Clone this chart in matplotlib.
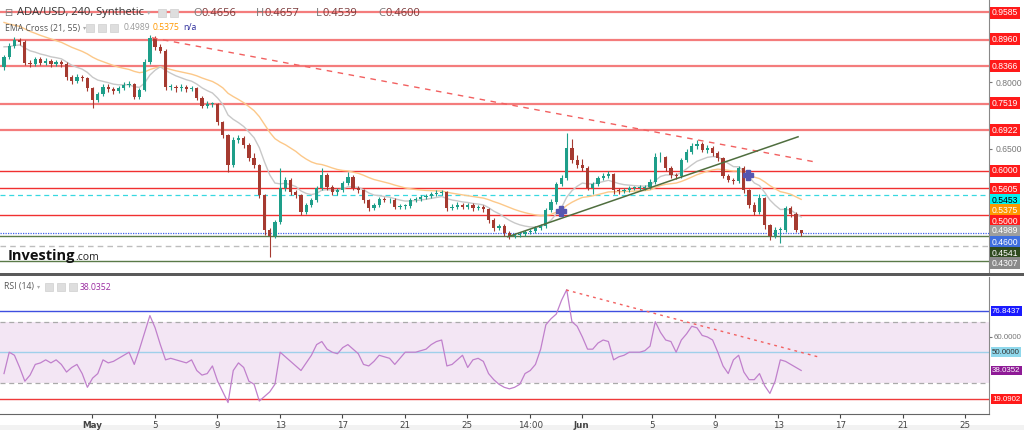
import matplotlib
matplotlib.use("Agg")
import matplotlib.pyplot as plt
from matplotlib.patches import Rectangle
import numpy as np

plt.rcParams['font.family'] = ['Open Sans', 'DejaVu Sans']

first_open = 0.835
closes = [
    0.857, 0.882, 0.895, 0.891, 0.844, 0.841, 0.853, 0.844, 0.848, 0.841,
    0.846, 0.841, 0.812, 0.803, 0.812, 0.810, 0.787, 0.760, 0.774, 0.789,
    0.785, 0.780, 0.787, 0.794, 0.796, 0.767, 0.783, 0.846, 0.900, 0.880,
    0.871, 0.789, 0.789, 0.787, 0.789, 0.785, 0.787, 0.765, 0.747, 0.751,
    0.751, 0.710, 0.681, 0.613, 0.670, 0.674, 0.659, 0.629, 0.613, 0.546,
    0.467, 0.453, 0.485, 0.562, 0.580, 0.552, 0.546, 0.507, 0.523, 0.534,
    0.562, 0.591, 0.564, 0.552, 0.557, 0.573, 0.586, 0.562, 0.557, 0.534,
    0.516, 0.523, 0.537, 0.534, 0.534, 0.519, 0.521, 0.521, 0.534, 0.537,
    0.541, 0.543, 0.548, 0.550, 0.552, 0.516, 0.519, 0.523, 0.519, 0.523,
    0.516, 0.519, 0.514, 0.489, 0.471, 0.476, 0.460, 0.453, 0.455, 0.458,
    0.462, 0.465, 0.471, 0.476, 0.512, 0.530, 0.571, 0.584, 0.652, 0.625,
    0.613, 0.607, 0.562, 0.571, 0.584, 0.589, 0.593, 0.557, 0.555, 0.557,
    0.562, 0.562, 0.562, 0.564, 0.575, 0.631, 0.631, 0.607, 0.591, 0.589,
    0.625, 0.643, 0.656, 0.661, 0.647, 0.652, 0.640, 0.629, 0.589, 0.580,
    0.577, 0.607, 0.557, 0.523, 0.507, 0.539, 0.478, 0.453, 0.467, 0.467,
    0.516, 0.503, 0.466, 0.460]
highs = [
    0.862, 0.888, 0.902, 0.900, 0.896, 0.850, 0.858, 0.858, 0.854, 0.853,
    0.851, 0.851, 0.845, 0.816, 0.818, 0.817, 0.813, 0.790, 0.779, 0.795,
    0.795, 0.790, 0.792, 0.800, 0.802, 0.799, 0.788, 0.852, 0.906, 0.904,
    0.886, 0.874, 0.796, 0.794, 0.795, 0.793, 0.792, 0.790, 0.768, 0.757,
    0.756, 0.754, 0.713, 0.684, 0.676, 0.680, 0.678, 0.662, 0.640, 0.616,
    0.549, 0.472, 0.490, 0.607, 0.586, 0.584, 0.557, 0.549, 0.528, 0.539,
    0.567, 0.607, 0.595, 0.568, 0.562, 0.578, 0.598, 0.590, 0.566, 0.560,
    0.537, 0.528, 0.542, 0.541, 0.540, 0.538, 0.526, 0.526, 0.539, 0.542,
    0.546, 0.548, 0.553, 0.556, 0.558, 0.555, 0.525, 0.529, 0.528, 0.528,
    0.527, 0.524, 0.523, 0.517, 0.494, 0.481, 0.480, 0.464, 0.460, 0.462,
    0.467, 0.470, 0.475, 0.481, 0.516, 0.536, 0.576, 0.590, 0.685, 0.672,
    0.636, 0.626, 0.610, 0.576, 0.589, 0.595, 0.599, 0.596, 0.562, 0.562,
    0.567, 0.567, 0.568, 0.569, 0.581, 0.641, 0.642, 0.634, 0.611, 0.596,
    0.630, 0.649, 0.662, 0.670, 0.666, 0.658, 0.656, 0.644, 0.632, 0.594,
    0.585, 0.612, 0.611, 0.560, 0.530, 0.547, 0.542, 0.481, 0.474, 0.474,
    0.521, 0.520, 0.507, 0.466]
lows = [
    0.828, 0.852, 0.877, 0.884, 0.838, 0.834, 0.836, 0.838, 0.839, 0.835,
    0.836, 0.835, 0.806, 0.797, 0.799, 0.804, 0.781, 0.742, 0.755, 0.770,
    0.779, 0.774, 0.776, 0.783, 0.789, 0.762, 0.762, 0.780, 0.842, 0.872,
    0.865, 0.783, 0.782, 0.779, 0.781, 0.778, 0.780, 0.759, 0.741, 0.742,
    0.744, 0.704, 0.674, 0.598, 0.608, 0.664, 0.652, 0.622, 0.606, 0.540,
    0.455, 0.406, 0.448, 0.480, 0.555, 0.546, 0.540, 0.501, 0.503, 0.518,
    0.530, 0.557, 0.558, 0.546, 0.546, 0.552, 0.568, 0.556, 0.551, 0.528,
    0.510, 0.511, 0.519, 0.529, 0.528, 0.514, 0.514, 0.515, 0.517, 0.530,
    0.532, 0.537, 0.538, 0.543, 0.545, 0.510, 0.511, 0.514, 0.513, 0.514,
    0.510, 0.511, 0.508, 0.483, 0.465, 0.466, 0.454, 0.446, 0.448, 0.451,
    0.454, 0.457, 0.460, 0.467, 0.472, 0.507, 0.526, 0.566, 0.580, 0.618,
    0.606, 0.600, 0.556, 0.549, 0.566, 0.579, 0.583, 0.548, 0.549, 0.550,
    0.552, 0.556, 0.557, 0.557, 0.559, 0.571, 0.620, 0.600, 0.584, 0.582,
    0.585, 0.620, 0.638, 0.650, 0.642, 0.641, 0.634, 0.623, 0.583, 0.574,
    0.571, 0.573, 0.551, 0.517, 0.500, 0.503, 0.470, 0.444, 0.448, 0.438,
    0.462, 0.497, 0.462, 0.454]

# RSI(14) read at the same candle positions
rsi = [
    36, 50, 48, 40, 31, 35, 42, 43, 45, 43,
    45, 42, 37, 40, 42, 36, 27, 33, 36, 45,
    43, 44, 46, 48, 50, 42, 52, 63, 74, 66,
    55, 45, 46, 45, 44, 43, 45, 38, 35, 36,
    41, 31, 24, 17, 38, 43, 40, 31, 29, 18,
    21, 24, 29, 50, 47, 44, 41, 38, 43, 48,
    55, 57, 52, 50, 49, 53, 55, 52, 49, 42,
    41, 44, 48, 47, 46, 42, 46, 50, 50, 50,
    51, 52, 55, 57, 58, 41, 42, 45, 48, 40,
    45, 46, 44, 36, 32, 29, 27, 26, 27, 29,
    36, 38, 42, 52, 68, 72, 75, 84, 91, 70,
    67, 60, 52, 52, 56, 58, 57, 45, 47, 48,
    50, 50, 50, 51, 54, 70, 63, 58, 57, 50,
    58, 62, 67, 66, 61, 60, 58, 50, 41, 36,
    45, 48, 37, 32, 32, 36, 28, 23, 31, 45,
    44, 42, 40, 38.0352]

# EMA cross (21, 55) on 4h = spans of 10.5 / 27.5 on 8h candles
ema_fast_seed = 0.880
ema_slow_seed = 0.935

# horizontal levels
soft_red_levels = [0.9585, 0.8960, 0.8366, 0.7519, 0.6922]
red_levels = [0.6000, 0.5605, 0.5000]
cyan_level = 0.5453
price_level = 0.4600
green_levels = [0.4541, 0.3967]
gray_level = 0.4307

# drawn trendlines / markers (candle index, value)
down_trend = ([28.4, 155.7], [0.9004, 0.6202])
up_trend = ([96.7, 152.4], [0.4515, 0.6770])
cross_marks = ([106.9, 142.8], [0.5096, 0.5908])
rsi_trend = ([107.9, 156.2], [90.8, 47.0])
rsi_levels = {'top': 76.8437, 'bottom': 19.0902}

tick_pos = [16.9, 29.0, 40.9, 53.0, 64.9, 77.0, 88.9, 101.0, 110.9,
            124.4, 136.5, 148.6, 160.5, 172.6, 184.5]
tick_labels = ['May', '5', '9', '13', '17', '21', '25', '14:00', 'Jun',
               '5', '9', '13', '17', '21', '25']
price_ticks = [0.65, 0.80]
rsi_ticks = [60]

# right-hand value tags: (text, drawn at, background, text colour)
price_tags = [
    ('0.9585', 0.9563, '#ff1a1a', 'white'),
    ('0.8960', 0.8976, '#ff1a1a', 'white'),
    ('0.8366', 0.8367, '#ff1a1a', 'white'),
    ('0.7519', 0.7532, '#ff1a1a', 'white'),
    ('0.6922', 0.6923, '#ff1a1a', 'white'),
    ('0.6000', 0.6000, '#ff1a1a', 'white'),
    ('0.5605', 0.5590, '#ff1a1a', 'white'),
    ('0.5453', 0.5344, '#00f0f0', 'black'),
    ('0.5375', 0.5118, '#ff9800', 'white'),
    ('0.5000', 0.4870, '#ff1a1a', 'white'),
    ('0.4989', 0.4645, '#9e9e9e', 'white'),
    ('0.4600', 0.4396, '#3f6fe0', 'white'),
    ('0.4541', 0.4148, '#2e4a1e', 'white'),
    ('0.4307', 0.3923, '#8a8a8a', 'white'),
]
rsi_tags = [
    ('76.8437', 76.8437, '#1a1aff', 'white'),
    ('50.0000', 50.0, '#8fd8ec', '#333333'),
    ('38.0352', 38.0352, '#8e1a96', 'white'),
    ('19.0902', 19.0902, '#ff1a1a', 'white'),
]

W, H = 1024, 430


def fx(px):
    return px / W


def fy(py):
    return 1 - py / H


opens = [first_open] + closes[:-1]
idx = np.arange(len(closes))

ema_fast = [ema_fast_seed]
ema_slow = [ema_slow_seed]
a_fast = 2 / (10.5 + 1)
a_slow = 2 / (27.5 + 1)
for c in closes[1:]:
    ema_fast.append(ema_fast[-1] + a_fast * (c - ema_fast[-1]))
    ema_slow.append(ema_slow[-1] + a_slow * (c - ema_slow[-1]))

fig = plt.figure(figsize=(W / 100, H / 100), dpi=100)
fig.patch.set_facecolor('white')
renderer = fig.canvas.get_renderer()

ax = fig.add_axes([0, fy(272), fx(989), 272 / H])
ax_rsi = fig.add_axes([0, fy(414), fx(989), (414 - 277) / H])

xlim = (-0.77, 189.05)

# ---- price pane
for lv in soft_red_levels:
    ax.axhline(lv, color='#f47c7c', lw=1.6, zorder=1)
for lv in red_levels:
    ax.axhline(lv, color='#f03030', lw=1.0, zorder=1)
ax.axhline(cyan_level, color='#38d8e0', lw=0.9, ls=(0, (4, 3)), zorder=1)
ax.axhline(price_level, color='#4060f0', lw=0.9, ls=(0, (1, 1)), zorder=1)
for lv in green_levels:
    ax.axhline(lv, color='#5a7a48', lw=1.0, zorder=1)
ax.axhline(gray_level, color='#bdbdbd', lw=1.0, ls=(0, (4, 3)), zorder=1)

ax.plot(idx, ema_slow, color='#fcc889', lw=1.0, zorder=2)
ax.plot(idx, ema_fast, color='#c8c8c8', lw=1.0, zorder=2)

colors = ['#1e9e89' if c >= o else '#a53a30' for o, c in zip(opens, closes)]
ax.vlines(idx, lows, highs, colors=colors, lw=0.8, zorder=3)
bottoms = [min(o, c) for o, c in zip(opens, closes)]
heights = [max(abs(c - o), 0.0015) for o, c in zip(opens, closes)]
ax.bar(idx, heights, bottom=bottoms, width=0.62, color=colors, lw=0, zorder=4)

ax.plot(*down_trend, color='#f26060', lw=1.0, ls=(0, (4, 4)), zorder=5)
ax.plot(*up_trend, color='#4f6e3e', lw=1.1, zorder=5)
ax.plot(*cross_marks, ls='none', marker='P', ms=7, color='#5656b0',
        mec='#5656b0', zorder=6)

ax.set_xlim(*xlim)
ax.set_ylim(0.3720, 0.9856)
ax.set_xticks([])
ax.yaxis.tick_right()
ax.set_yticks(price_ticks)
ax.set_yticklabels(['%.4f' % v for v in price_ticks])
ax.tick_params(axis='y', labelsize=6.2, colors='#777777', length=2.5, pad=2)
for lab in ax.get_yticklabels():
    lab.set_family(['Liberation Sans', 'DejaVu Sans'])
for s in ['left', 'top', 'bottom']:
    ax.spines[s].set_visible(False)
ax.spines['right'].set_color('#888888')


def tag(axis, pos, text, bg, fg, size):
    axis.text(1.003, pos, text, transform=axis.get_yaxis_transform(), ha='left',
              va='center', fontsize=size, color=fg, clip_on=False, zorder=10,
              family=['Liberation Sans', 'DejaVu Sans'],
              bbox=dict(boxstyle='square,pad=0.18', fc=bg, ec='none'))


for text, pos, bg, fg in price_tags:
    tag(ax, pos, text, bg, fg, 6.2)

# ---- RSI pane
ax_rsi.axhspan(30, 70, color='#f3e6f4', lw=0, zorder=0)
ax_rsi.axhline(70, color='#aaaaaa', lw=0.9, ls=(0, (4, 3)), zorder=1)
ax_rsi.axhline(30, color='#aaaaaa', lw=0.9, ls=(0, (4, 3)), zorder=1)
ax_rsi.axhline(50, color='#9fd0ea', lw=1.0, zorder=1)
ax_rsi.axhline(rsi_levels['top'], color='#3f4fe0', lw=1.0, zorder=1)
ax_rsi.axhline(rsi_levels['bottom'], color='#ef3a3a', lw=1.0, zorder=1)
ax_rsi.plot(idx, rsi, color='#c080cc', lw=0.9, zorder=3)
ax_rsi.plot(*rsi_trend, color='#f26060', lw=1.0, ls=(0, (2, 3)), zorder=4)

ax_rsi.set_xlim(*xlim)
ax_rsi.set_ylim(9.5, 99.3)
ax_rsi.yaxis.tick_right()
ax_rsi.set_yticks(rsi_ticks)
ax_rsi.set_yticklabels(['%.4f' % v for v in rsi_ticks])
ax_rsi.tick_params(axis='y', labelsize=5.7, colors='#777777', length=2, pad=1.5)
for lab in ax_rsi.get_yticklabels():
    lab.set_family(['Liberation Sans', 'DejaVu Sans'])
ax_rsi.set_xticks(tick_pos)
ax_rsi.set_xticklabels(tick_labels)
ax_rsi.tick_params(axis='x', labelsize=6.3, colors='#444444', length=3, pad=2)
for lab in ax_rsi.get_xticklabels():
    lab.set_family(['Liberation Sans Narrow', 'DejaVu Sans'])
    if lab.get_text() in ('May', 'Jun'):
        lab.set_fontweight('bold')
ax_rsi.spines['top'].set_visible(False)
ax_rsi.spines['left'].set_visible(False)
ax_rsi.spines['right'].set_color('#888888')
ax_rsi.spines['bottom'].set_color('#666666')

for text, pos, bg, fg in rsi_tags:
    tag(ax_rsi, pos, text, bg, fg, 5.7)

# pane separator and bottom strip
fig.patches.append(Rectangle((0, fy(276)), 1, 3 / H, transform=fig.transFigure,
                             color='#5a5a5a', lw=0, zorder=20))
fig.patches.append(Rectangle((0, 0), 1, fy(425), transform=fig.transFigure,
                             color='#f2f2f2', lw=0, zorder=-5))


def icons(x0, y, n):
    for k in range(n):
        fig.patches.append(Rectangle((fx(x0 + k * 12), fy(y + 4)), 8 / W, 8 / H,
                                     transform=fig.transFigure, fc='#dedede',
                                     ec='#cfcfcf', lw=0.5, zorder=20))


def put(x_px, y_px, s, **kw):
    t = fig.text(fx(x_px), fy(y_px), s, va='center', **kw)
    return t.get_window_extent(renderer).x1


# ---- header texts
put(4, 13, '⊟', fontsize=7, color='#777777', family='DejaVu Sans')
x = put(17, 13, 'ADA/USD, 240, Synthetic', fontsize=8, color='#333333')
put(x + 3, 13, '▾', fontsize=5, color='#aaaaaa', family='DejaVu Sans')
icons(158, 13, 2)
for letter, val, xp in [('O', '0.4656', 193), ('H', '0.4657', 256),
                        ('L', '0.4539', 316), ('C', '0.4600', 378)]:
    x = put(xp, 13, letter, fontsize=8, color='#777777')
    put(x + 0.5, 13, val, fontsize=8, color='#7a3a3a')

x = put(5, 28, 'EMA Cross (21, 55)', fontsize=6.2, color='#555555')
put(x + 3, 28, '▾', fontsize=4.5, color='#aaaaaa', family='DejaVu Sans')
icons(86, 28, 3)
put(124, 28, '0.4989', fontsize=6.2, color='#9a9a9a')
put(153, 28, '0.5375', fontsize=6.2, color='#ff9800')
put(183, 28, 'n/a', fontsize=6.2, color='#2a2a9a')

x = put(4, 287, 'RSI (14)', fontsize=6.2, color='#555555')
put(x + 3, 287, '▾', fontsize=4.5, color='#aaaaaa', family='DejaVu Sans')
icons(45, 287, 3)
put(80, 287, '38.0352', fontsize=6.2, color='#9a2aa0')

x = put(8, 256, 'Investing', fontsize=10.5, fontweight='bold', color='#111111')
put(x, 257, '.com', fontsize=7.5, color='#222222')

fig.savefig('out.png', dpi=100)
